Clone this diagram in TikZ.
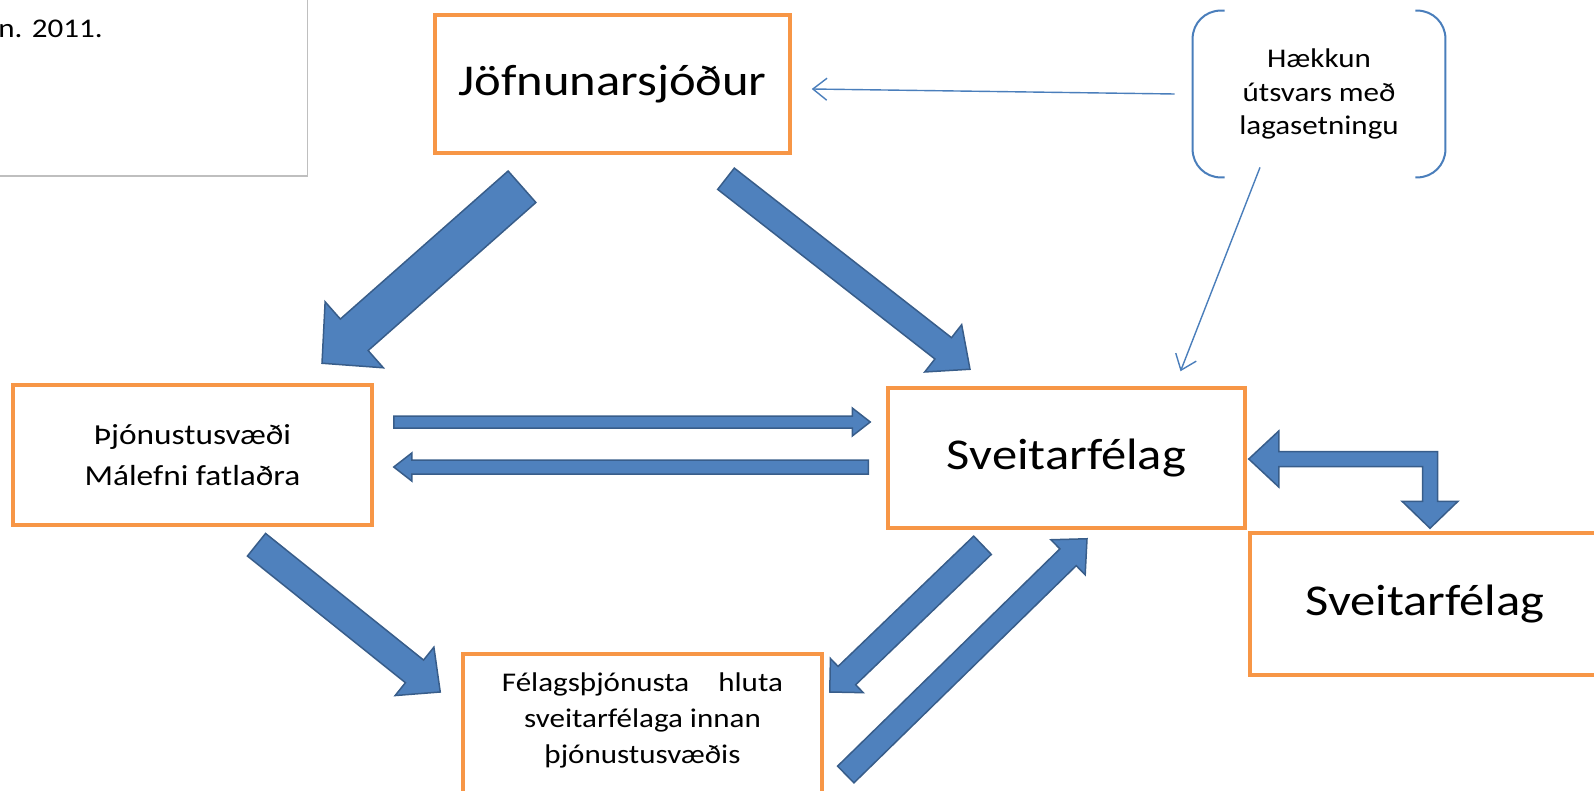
\documentclass[tikz,border=0pt]{standalone}
\usepackage{fontspec}
\setmainfont{Carlito}[FakeStretch=1.15]
\usetikzlibrary{arrows.meta, calc, positioning}
\definecolor{boxorange}{HTML}{F79646}
\definecolor{arrowfill}{HTML}{4F81BD}
\definecolor{arrowline}{HTML}{385D8A}
\definecolor{linkblue}{HTML}{4A7EBB}
\definecolor{notegray}{HTML}{BFBFBF}
\tikzset{
    flow-box/.style={
        draw=boxorange, line width=1.75pt, minimum width=178pt, minimum height=70pt,
        inner sep=0pt, align=center, font=\fontsize{22pt}{26pt}\selectfont
    },
    small-text/.style={
        align=center, inner sep=0pt, font=\fontsize{13.5pt}{18pt}\selectfont
    },
    block-arrow/.style={
        fill=arrowfill, draw=arrowline, line width=0.75pt, line join=miter
    },
    thin-arrow/.style={
        draw=linkblue, line width=0.7pt, -{Straight Barb[length=7pt,width=11pt]}
    },
    bracket-line/.style={
        draw=linkblue, line width=1pt, rounded corners=14pt
    },
}
% tail, tip, shaft half width, head half width, head length
\newcommand{\blockarrow}[5]{%
    \coordinate (#1-neck) at ($(#2)!#5!(#1)$);
    \draw[block-arrow] ($(#1)!#3!90:(#2)$) -- ($(#1-neck)!#3!90:(#2)$)
        -- ($(#1-neck)!#4!90:(#2)$) -- (#2) -- ($(#1-neck)!#4!-90:(#2)$)
        -- ($(#1-neck)!#3!-90:(#2)$) -- ($(#1)!#3!-90:(#2)$) -- cycle;
}

\begin{document}
\begin{tikzpicture}[x=0.5pt, y=-0.5pt]

        \useasboundingbox (0,0) rectangle (1594,791);
        \clip (0,0) rectangle (1594,791);

        % NOTE BOX (CUT OFF)
        \node[draw=notegray, line width=0.75pt, minimum width=170pt, minimum height=100pt, anchor=south east] (notebox) at (308,177) {};
        \node[small-text, anchor=base west] (notedate) at (-2,38) {n. 2011.};

        % BOXES
        \node[flow-box, minimum width=177.5pt, minimum height=69pt] (jofn)   at (612.5,84)  {Jöfnunarsjóður};
        \node[flow-box, minimum width=179.5pt, font=\fontsize{14.5pt}{20.5pt}\selectfont]
                                                               (thjon)  at (192.5,455) {Þjónustusvæði\\Málefni fatlaðra};
        \node[flow-box, minimum width=178.5pt]                 (sveit)  at (1066.5,458) {Sveitarfélag};
        \node[flow-box, minimum width=175pt, minimum height=71pt] (sveit2) at (1425,604) {Sveitarfélag};
        \node[flow-box, minimum width=179.5pt, minimum height=80pt, anchor=north] (felag) at (642.5,652) {};
        \node[small-text, below=10pt of felag.north] (felagtext) {Félagsþjónusta\hspace{11pt} hluta\\sveitarfélaga innan\\þjónustusvæðis};

        % HAEKKUN NOTE, BRACKETS
        \node[small-text, minimum width=126pt, minimum height=83pt, font=\fontsize{13.5pt}{16.75pt}\selectfont]
                                                               (hekkun) at (1319,94) {Hækkun\\útsvars með\\lagasetningu};
        \draw[bracket-line] ($(hekkun.north west)+(32,0)$) -- (hekkun.north west) -- (hekkun.south west) -- ($(hekkun.south west)+(32,0)$);
        \draw[bracket-line] ($(hekkun.north east)+(-30,0)$) -- (hekkun.north east) -- (hekkun.south east) -- ($(hekkun.south east)+(-30,0)$);

        % THIN ARROWS
        \draw[thin-arrow] ($(hekkun.west)+(-18,0)$) -- ($(jofn.east)+(20,5)$);
        \draw[thin-arrow] ($(hekkun.south)+(-59,-10)$) -- ($(sveit.north)+(114,-15)$);

        % BLOCK ARROW END POINTS
        \coordinate (jofn-thjon-start)  at ($(jofn.south)+(-90.5,32)$);
        \coordinate (jofn-thjon-end)    at ($(thjon.north)+(129.5,-20)$);
        \coordinate (jofn-sveit-start)  at ($(jofn.south)+(113.5,24)$);
        \coordinate (jofn-sveit-end)    at ($(sveit.north)+(-96.5,-17)$);
        \coordinate (thjon-felag-start) at ($(thjon.south)+(64,18)$);
        \coordinate (thjon-felag-end)   at ($(felag.north west)+(-21,40)$);
        \coordinate (sveit-felag-start) at ($(sveit.south)+(-84,15.5)$);
        \coordinate (sveit-felag-end)   at ($(felag.north east)+(6,40)$);
        \coordinate (felag-sveit-start) at ($(felag.north east)+(22,122.5)$);
        \coordinate (felag-sveit-end)   at ($(sveit.south)+(20.5,9)$);
        \coordinate (thjon-sveit-start) at ($(thjon.east)+(20,-33)$);
        \coordinate (thjon-sveit-end)   at ($(sveit.west)+(-16,-36)$);
        \coordinate (sveit-thjon-start) at ($(sveit.west)+(-18,9)$);
        \coordinate (sveit-thjon-end)   at ($(thjon.east)+(20,12)$);

        % BLOCK ARROWS
        \blockarrow{jofn-thjon-start}{jofn-thjon-end}{10.5pt}{22pt}{21.5pt}
        \blockarrow{jofn-sveit-start}{jofn-sveit-end}{6.75pt}{15pt}{17pt}
        \blockarrow{thjon-felag-start}{thjon-felag-end}{7.25pt}{15.5pt}{16.5pt}
        \blockarrow{sveit-felag-start}{sveit-felag-end}{6.35pt}{11.85pt}{11.85pt}
        \blockarrow{felag-sveit-start}{felag-sveit-end}{5.85pt}{12.25pt}{13.25pt}
        \blockarrow{thjon-sveit-start}{thjon-sveit-end}{3pt}{7pt}{9pt}
        \blockarrow{sveit-thjon-start}{sveit-thjon-end}{3.5pt}{7pt}{9pt}

        % BENT DOUBLE ARROW BETWEEN SVEITARFELOG
        \coordinate (link-west)   at ($(sveit.east)+(2,1)$);
        \coordinate (link-south)  at ($(sveit2.north)+(5,-3)$);
        \coordinate (link-corner) at (link-south |- link-west);
        \draw[block-arrow] (link-west) -- ++(30,-28) -- ++(0,20.5) -- ($(link-corner)+(7.5,-7.5)$)
            -- ($(link-south)+(7.5,-27)$) -- ++(20.5,0) -- (link-south) -- ($(link-south)+(-28,-27)$)
            -- ++(20.5,0) -- ($(link-corner)+(-7.5,7.5)$) -- ($(link-west)+(30,7.5)$) -- ++(0,20.5) -- cycle;

    \end{tikzpicture}
\end{document}
